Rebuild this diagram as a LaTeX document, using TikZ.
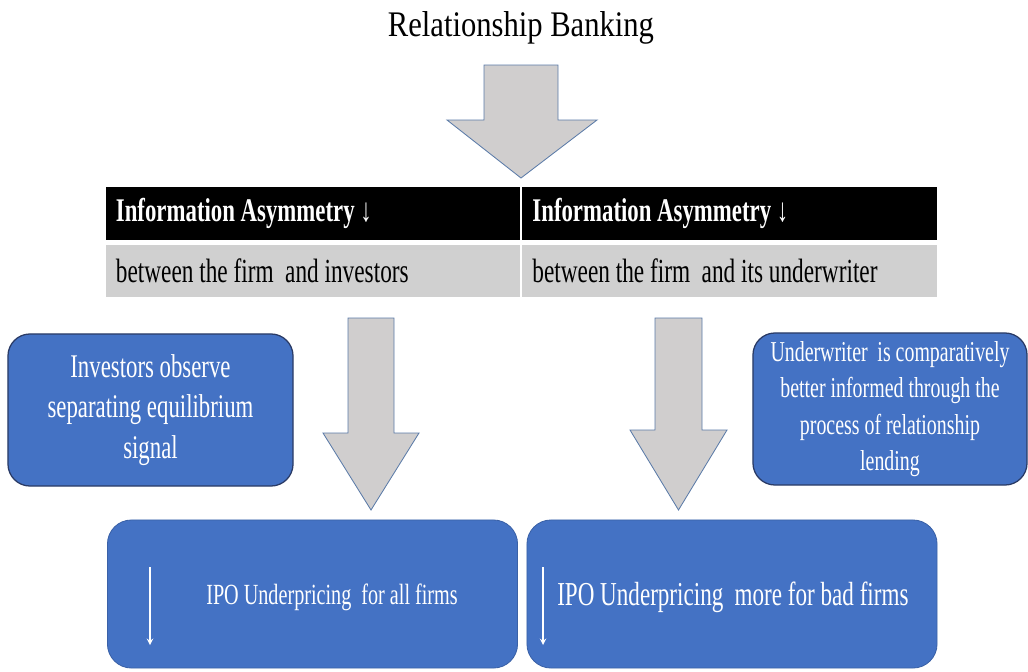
\documentclass[tikz,border=0pt]{standalone}
\usepackage{fontspec}
\setmainfont[FakeStretch=0.69]{Liberation Serif}
\newfontfamily\titlefont[FakeStretch=0.85]{Liberation Serif}
\usetikzlibrary{positioning}
\definecolor{boxblue}{HTML}{4472C4}
\definecolor{boxedge}{HTML}{2A3B66}
\definecolor{arrgray}{HTML}{D0CECE}
\definecolor{arredge}{HTML}{5B7BA8}
\definecolor{rowgray}{HTML}{D0D0D0}
\begin{document}
\begin{tikzpicture}[
  x=0.025cm, y=-0.025cm,
  head/.style={fill=black, text=white, font=\fontsize{23.5}{28}\selectfont\bfseries, minimum height=1.325cm, text width=9.85cm, inner xsep=0.25cm, inner ysep=0pt, align=flush left},
  row/.style={fill=rowgray, font=\fontsize{24}{28}\selectfont, minimum height=1.3cm, text width=9.85cm, inner xsep=0.25cm, inner ysep=0pt, align=flush left},
  side/.style={draw=boxedge, line width=0.9pt, fill=boxblue, rounded corners=0.55cm, text=white, align=center, minimum height=3.8cm},
  result/.style={draw=boxblue!85!black, line width=0.6pt, fill=boxblue, rounded corners=0.6cm, minimum width=10.25cm, minimum height=3.7cm},
  restext/.style={text=white, inner sep=0pt},
  blockarrow/.style={fill=arrgray, draw=arredge, line width=0.6pt},
  >=stealth
]
\useasboundingbox (0,0) rectangle (1028,672);

\node[font=\titlefont\fontsize{25.6}{30}\selectfont] (title) at (521,28) {Relationship Banking};
\draw[blockarrow] (484,65) -- (558,65) -- (558,120) -- (597,120) -- (521,178) -- (447,120) -- (484,120) -- cycle;

% table
\node[head] (hl) at (313,213.5) {Information Asymmetry\ ↓};
\node[head] (hr) at (729.5,213.5) {Information Asymmetry\ ↓};
\node[row] (rl) at (313,271) {between the firm\, and investors};
\node[row] (rr) at (729.5,271) {between the firm\, and its underwriter};

% arrows down
\draw[blockarrow] (348,318) -- (394,318) -- (394,433) -- (419,433) -- (371,510) -- (323,433) -- (348,433) -- cycle;
\draw[blockarrow] (655,318) -- (702,318) -- (702,430) -- (727,430) -- (678.5,510) -- (630,430) -- (655,430) -- cycle;

\node[side, minimum width=7.125cm, font=\fontsize{23.5}{29}\selectfont] (inv) at (150.5,410)
  {Investors observe\\separating equilibrium\\signal};
\node[side, minimum width=6.85cm, font=\fontsize{20.5}{26}\selectfont] (uw) at (890,409)
  {Underwriter\, is comparatively\\better informed through the\\process of relationship\\lending};

% results
\node[result] (all) at (312.5,594) {};
\node[result] (bad) at (732,594) {};
\node[restext, anchor=west, font=\fontsize{20.8}{26}\selectfont] (alltxt) at (206,597) {IPO Underpricing\, for all firms};
\node[restext, anchor=west, font=\fontsize{23.8}{29}\selectfont] (badtxt) at (557,597) {IPO Underpricing\, more for bad firms};
\coordinate (alltop) at (150,567);
\coordinate (allbot) at (150,645);
\coordinate (badtop) at (543,567);
\coordinate (badbot) at (543,645);
\draw[->, white, line width=1pt] (alltop) -- (allbot);
\draw[->, white, line width=1pt] (badtop) -- (badbot);
\end{tikzpicture}
\end{document}
